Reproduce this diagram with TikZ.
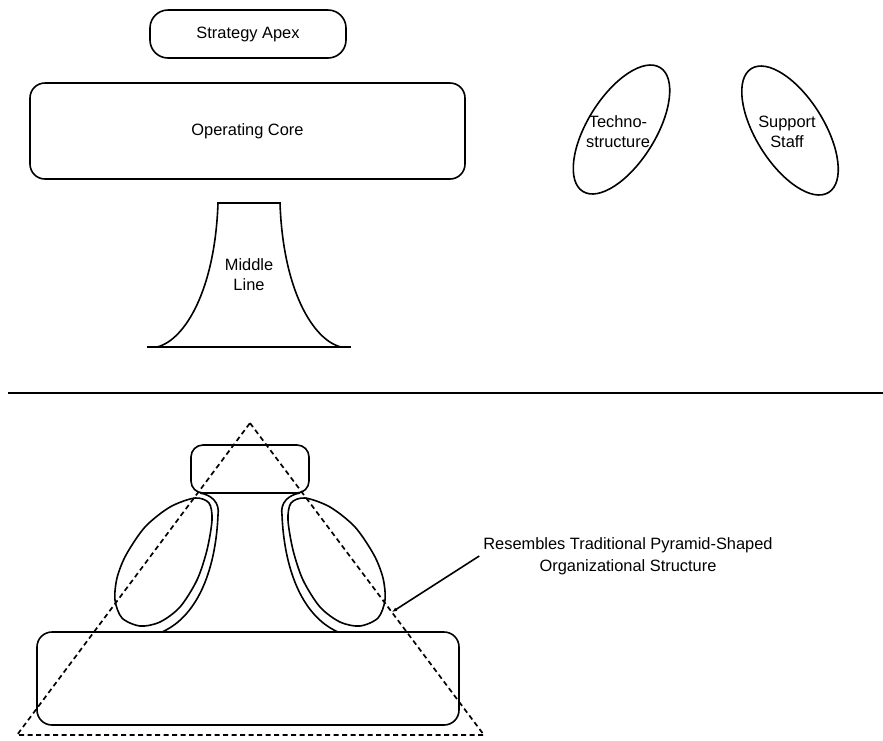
\documentclass[tikz,border=0pt]{standalone}
\usepackage{fontspec}
\setmainfont{Liberation Sans}
\usetikzlibrary{arrows.meta,shapes.geometric}

\begin{document}
\begin{tikzpicture}[x=1pt, y=-1pt, line width=1.6pt, >={Latex[length=5pt,width=4pt]},
    font=\fontsize{16.4}{20}\selectfont,
    part/.style={draw, rounded corners=18pt, inner sep=0pt},
    staff/.style={draw, ellipse, inner sep=0pt, minimum width=146pt, minimum height=68pt},
    pyramid/.style={dash pattern=on 5pt off 3.5pt, line width=1.7pt}]
  \useasboundingbox (0,0) rectangle (883,740);

  % the parts, apart
  \node[part, minimum width=196pt, minimum height=48pt] (apex) at (248,34) {Strategy Apex};
  \node[part, rounded corners=15pt, minimum width=435pt, minimum height=96pt] (core) at (247.5,131) {Operating Core};
  \draw (147,347) -- (351,347);
  \draw (157,347) .. controls (185,340) and (215,290) .. (218,203) -- (280,203)
        .. controls (283,290) and (313,340) .. (341,347);
  \node[align=center] (midlabel) at (249,275) {Middle\\Line};
  \node[staff, rotate=58] (techno) at (621.5,129.5) {};
  \node[align=center] (technolabel) at (618,132) {Techno-\\structure};
  \node[staff, rotate=-58] (support) at (790,130.5) {};
  \node[align=center] (supportlabel) at (787,132) {Support\\Staff};

  \draw (8,393) -- (883,393);

  % the parts put together
  \draw[rounded corners=12pt] (191,445) rectangle (309,493);
  \draw[rounded corners=15pt] (37,632) rectangle (459,725);
  \foreach \side in {1,-1} {
    \begin{scope}[shift={(250,0)}, xscale=\side]
      \draw plot[smooth cycle] coordinates {(-55,498) (-41,503) (-38,520) (-43,550)
        (-53,580) (-70,607) (-90,622) (-110,626) (-128,618) (-135,600) (-133,578)
        (-124,555) (-105,527) (-80,507)};
      \draw (-50,493) .. controls (-38,495) and (-30,503) .. (-32,515)
            .. controls (-34,565) and (-50,615) .. (-88,632);
    \end{scope}
  }
  \draw[pyramid] (250,423) -- (484,735) -- (17,735) -- cycle;

  \node[align=center, font=\fontsize{16.4}{22}\selectfont] (note) at (628,556)
    {Resembles Traditional Pyramid-Shaped\\Organizational Structure};
  \coordinate (tip) at (392,612);
  \draw[->] (note.west) -- (tip);
\end{tikzpicture}
\end{document}
